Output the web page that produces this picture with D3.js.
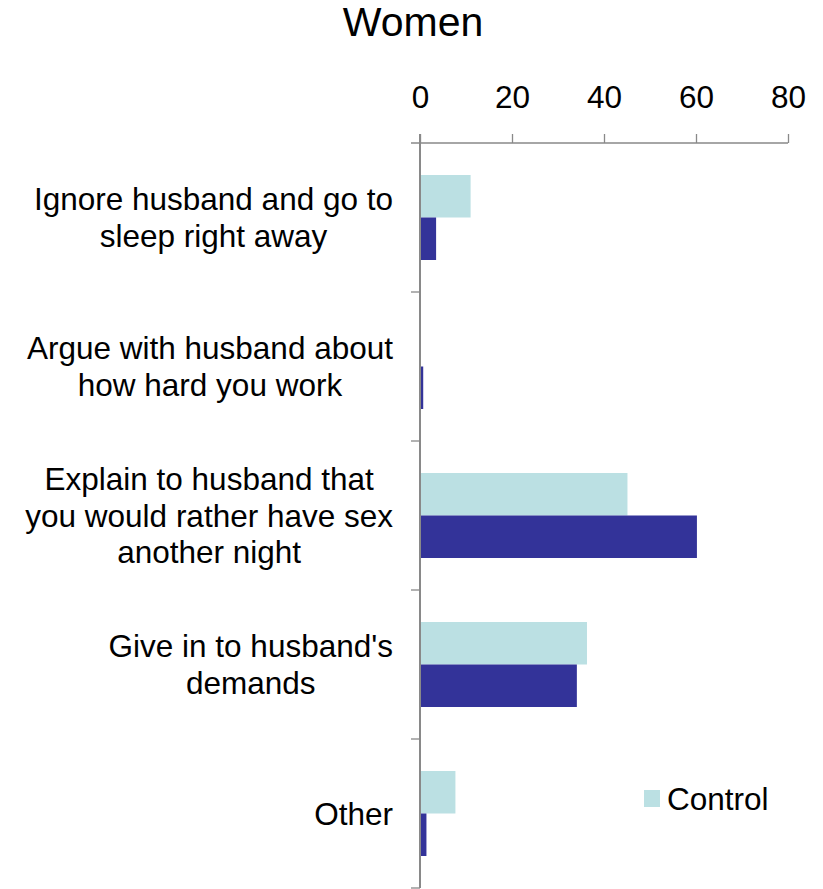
<!DOCTYPE html>
<html>
<head>
<meta charset="utf-8">
<script src="https://cdn.jsdelivr.net/npm/d3@7"></script>
<style>
  html, body { margin: 0; padding: 0; background: #fff; }
  svg text { font-family: "Liberation Sans", Arial, Helvetica, sans-serif; fill: #000; }
</style>
</head>
<body>
<svg id="chart" width="823" height="889"></svg>
<script>
const title = "Women";
const categories = [
  ["Ignore husband and go to", "sleep right away"],
  ["Argue with husband about", "how hard you work"],
  ["Explain to husband that", "you would rather have sex", "another night"],
  ["Give in to husband's", "demands"],
  ["Other"]
];
const seriesNames = ["Control", "Intervention"];
const controlValues = [11.0, 0, 45.1, 36.3, 7.7];
const interventionValues = [3.5, 0.7, 60.2, 34.1, 1.4];
const xTicks = [0, 20, 40, 60, 80];
const legendNames = ["Control"];
const colors = { "Control": "#BBE0E3", "Intervention": "#333399" };

const svg = d3.select("#chart");
const fontSize = 31.5;
const lineH = 36.7;

const x = d3.scaleLinear().domain([0, 80]).range([420, 788]);
const catIdx = categories.map((d, i) => i);
const y0 = d3.scaleBand().domain(catIdx).range([143, 888]).paddingInner(0).paddingOuter(0);
const y1 = d3.scaleBand().domain(seriesNames).range([0, y0.bandwidth()]).paddingInner(0).paddingOuter(0.753);

const data = catIdx.map(i => ({ i, values: [
  { s: "Control", v: controlValues[i] },
  { s: "Intervention", v: interventionValues[i] }
]}));

// Title
svg.append("text").attr("x", 413).attr("y", 36).attr("text-anchor", "middle")
  .style("font-size", "41px").text(title);

// Bars
const g = svg.append("g");
g.selectAll("g.cat").data(data).join("g").attr("class", "cat")
  .attr("transform", d => `translate(0,${y0(d.i)})`)
  .selectAll("rect").data(d => d.values.filter(e => e.v > 0)).join("rect")
  .attr("x", x(0))
  .attr("y", d => y1(d.s))
  .attr("width", d => x(d.v) - x(0))
  .attr("height", y1.bandwidth())
  .attr("fill", d => colors[d.s]);

// X axis (top)
const xAxis = d3.axisTop(x).tickValues(xTicks).tickSize(9).tickPadding(25.7).tickSizeOuter(0);
const gx = svg.append("g").attr("transform", "translate(0,143)").call(xAxis);
gx.select(".domain").remove();
gx.append("line").attr("x1", 411).attr("x2", x(80)).attr("y1", 0).attr("y2", 0)
  .attr("stroke", "#898989").attr("stroke-width", 1.3);
gx.selectAll(".tick line").attr("stroke", "#898989").attr("stroke-width", 1.3);
gx.selectAll(".tick text").style("font-size", fontSize + "px")
  .style("font-family", '"Liberation Sans", Arial, sans-serif').attr("fill", "#000");

// Y axis (category)
const gy = svg.append("g");
gy.append("line").attr("x1", x(0)).attr("x2", x(0)).attr("y1", 134).attr("y2", 888)
  .attr("stroke", "#898989").attr("stroke-width", 2);
const boundaries = catIdx.map(i => y0(i) + y0.bandwidth()).concat([]);
gy.selectAll("line.tk").data(boundaries).join("line").attr("class", "tk")
  .attr("x1", 411).attr("x2", x(0)).attr("y1", d => d).attr("y2", d => d)
  .attr("stroke", "#898989").attr("stroke-width", 1.3);

// Category labels: block right-aligned, lines centered in block
const rightEdge = 393;
const capH = fontSize * 0.358;
categories.forEach((lines, i) => {
  const cy = y0(i) + y0.bandwidth() / 2;
  const grp = svg.append("g");
  const texts = lines.map((t, k) => grp.append("text")
    .style("font-size", fontSize + "px")
    .attr("y", cy + (k - (lines.length - 1) / 2) * lineH + capH)
    .text(t));
  const widths = texts.map(t => t.node().getComputedTextLength());
  const maxW = d3.max(widths);
  const center = rightEdge - maxW / 2;
  texts.forEach(t => t.attr("x", center).attr("text-anchor", "middle"));
});

// Legend
const lg = svg.append("g");
legendNames.forEach((n, k) => {
  lg.append("rect").attr("x", 644).attr("y", 790).attr("width", 16).attr("height", 17)
    .attr("fill", colors[n]);
  lg.append("text").attr("x", 667).attr("y", 810).style("font-size", fontSize + "px").text(n);
});
</script>
</body>
</html>
